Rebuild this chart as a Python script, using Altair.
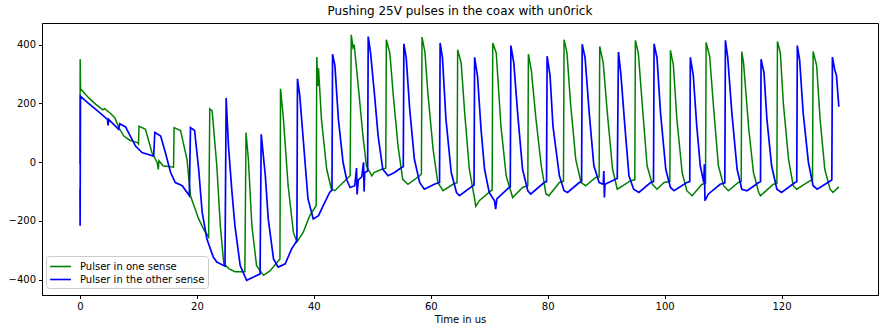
import altair as alt
import pandas as pd

# ---- data ----
series_names = ["Pulser in one sense", "Pulser in the other sense"]
series_colors = ["#008000", "#0000ff"]

green_t = [0.0, 0.03, 0.1, 1.5, 2.7, 3.9, 4.2, 5.3, 6.0, 6.6, 7.5, 8.5, 9.8, 10.0,
           10.1, 11.2, 12.3, 13.2, 13.4, 13.5, 14.2, 16.0,
           16.1, 17.2, 18.3, 18.9, 20.3, 21.2, 22.0,
           22.2, 22.6, 23.4, 24.0, 24.6, 25.5, 26.5, 28.2,
           28.4, 28.8, 29.4, 30.2, 31.4, 32.5, 34.2,
           34.3, 34.8, 35.6, 36.5, 37.1, 38.2, 39.3, 40.4,
           40.5, 40.7, 40.8, 41.3, 42.2, 43.0, 43.6, 45.0, 46.2,
           46.4, 46.7, 46.9, 47.6, 48.4, 49.0, 49.9, 50.3, 51.6, 52.3,
           52.4, 53.0, 53.6, 54.4, 55.2, 56.1, 58.1, 58.4,
           58.5, 59.0, 59.5, 60.4, 61.2, 62.1, 63.8, 64.5,
           64.6, 65.2, 65.8, 66.6, 67.5, 67.7, 68.3, 70.3, 70.5,
           70.6, 71.2, 72.0, 72.9, 74.0, 75.7, 76.6,
           76.7, 77.2, 78.0, 78.9, 79.7, 80.2, 82.0, 82.7,
           82.8, 83.3, 83.9, 84.8, 85.7, 86.5, 88.2, 88.8,
           88.9, 89.5, 90.2, 91.1, 91.9, 94.2, 94.9,
           95.0, 95.5, 96.2, 97.0, 97.9, 98.7, 99.9, 100.9,
           101.0, 101.5, 102.1, 103.0, 103.8, 104.7, 106.4, 107.0,
           107.1, 107.7, 108.4, 109.2, 110.1, 110.9, 112.6, 113.1,
           113.2, 113.5, 114.4, 115.2, 116.1, 116.4, 118.6, 119.2,
           119.3, 119.8, 120.3, 121.2, 122.0, 122.6, 124.9, 125.3,
           125.4, 126.0, 126.6, 127.4, 128.3, 128.8, 129.8]
green_v = [-5, 351, 250, 219, 197, 178, 182, 165, 150, 119, 89, 75, 67, 62,
           123, 112, 33, -1, -25, 5, -12, -17,
           118, 108, 10, -114, -193, -230, -255,
           182, 175, -12, -216, -346, -363, -373, -373,
           101, 10, -216, -352, -385, -370, -329,
           250, 146, -80, -238, -272, -238, -182, -148,
           358, 260, 320, 146, -24, -92, -97, -69, -46,
           434, 390, 400, 259, 89, -12, -46, -35, -24, -20,
           417, 372, 225, 55, -58, -75, -46, -40,
           426, 375, 236, 44, -69, -97, -75, -70,
           383, 338, 168, -24, -125, -150, -131, -97, -95,
           406, 372, 123, -46, -120, -86, -80,
           368, 313, 146, -12, -108, -114, -69, -65,
           417, 372, 202, 10, -69, -80, -52, -50,
           394, 338, 168, -24, -92, -63, -60,
           415, 372, 191, -12, -75, -92, -69, -65,
           381, 330, 146, -35, -97, -114, -75, -72,
           408, 361, 180, -12, -80, -97, -69, -66,
           377, 338, 112, -35, -103, -114, -75, -72,
           411, 372, 202, 10, -80, -92, -63, -60,
           377, 330, 146, -24, -92, -103, -84]

blue_t = [0.0, 0.02, 0.08, 1.0, 2.7, 4.7, 4.8, 4.9, 6.6,
          6.8, 7.8, 8.6, 9.5, 10.6, 12.6,
          12.8, 13.8, 14.6, 15.5, 16.3, 17.5, 18.7,
          18.9, 19.6, 20.3, 20.9, 21.7, 22.3, 22.8, 23.4, 24.8,
          25.0, 25.4, 26.0, 26.5, 27.4, 28.5, 29.7, 30.8,
          31.0, 31.7, 32.2, 33.1, 33.9, 35.1, 36.2, 37.1,
          37.2, 37.6, 38.5, 39.0, 39.9, 40.8, 41.6, 42.7, 43.1,
          43.2, 43.6, 44.2, 45.0, 45.6, 46.2, 47.0, 47.3, 47.4, 47.6, 48.2, 48.5, 48.6, 48.7, 49.2,
          49.3, 49.7, 50.4, 51.0, 51.8, 52.7, 53.8, 55.0, 55.3,
          55.4, 55.8, 56.4, 57.2, 58.1, 58.9, 60.6, 61.5,
          61.6, 62.0, 62.6, 63.5, 64.4, 64.9, 67.2, 67.4,
          67.5, 68.0, 68.6, 69.2, 70.0, 70.9, 71.1, 71.3, 73.4, 73.6,
          73.7, 74.2, 74.9, 75.7, 76.6, 77.1, 79.4, 79.8,
          79.9, 80.4, 80.9, 82.0, 82.8, 83.4, 85.4, 85.8,
          85.9, 86.4, 87.1, 87.9, 88.8, 89.5, 89.6, 89.7, 89.8, 91.6, 91.9,
          92.1, 92.5, 93.2, 93.9, 94.7, 95.6, 97.6, 98.1,
          98.2, 98.7, 99.3, 100.2, 101.0, 101.6, 103.8, 104.3,
          104.4, 104.9, 105.5, 106.1, 106.7, 106.8, 106.9, 107.5, 109.5, 110.3,
          110.4, 110.8, 111.5, 112.4, 113.2, 114.1, 116.1, 116.4,
          116.5, 117.0, 117.5, 118.3, 119.2, 120.0, 122.3, 122.6,
          122.7, 123.1, 123.7, 124.6, 125.4, 126.1, 128.4, 128.6,
          128.7, 129.1, 129.4, 129.8]
blue_v = [-90, -216, 225, 208, 180, 146, 125, 146, 112,
          131, 120, 89, 55, 33, 21,
          101, 89, 33, -35, -69, -80, -114,
          118, 108, -24, -171, -261, -295, -323, -340, -354,
          219, 55, -103, -216, -352, -402, -391, -380,
          95, -46, -193, -329, -357, -346, -295, -267,
          284, 225, -1, -125, -193, -182, -148, -103, -95,
          368, 330, 146, -1, -58, -86, -80, -20, -110, -60, -50, 0, -100, -35, -30,
          428, 372, 225, 89, -24, -46, -35, -18, -15,
          403, 355, 180, 10, -69, -92, -75, -69,
          406, 355, 146, -35, -103, -114, -80, -78,
          357, 292, 112, -24, -103, -131, -160, -125, -86, -84,
          397, 338, 157, -24, -97, -108, -69, -66,
          361, 296, 123, -46, -97, -103, -69, -66,
          402, 355, 168, -12, -69, -75, -30, -120, -75, -58, -55,
          375, 304, 123, -46, -92, -103, -69, -66,
          403, 355, 168, -24, -86, -97, -69, -66,
          357, 296, 123, -12, -69, -7, -131, -108, -75, -70,
          415, 355, 168, -24, -92, -97, -69, -66,
          351, 304, 146, -12, -92, -103, -69, -66,
          397, 347, 168, -1, -80, -92, -63, -60,
          358, 315, 295, 189]

x_ticks = [0, 20, 40, 60, 80, 100, 120]
y_ticks = [-400, -200, 0, 200, 400]

green_df = pd.DataFrame({"t": green_t, "v": green_v, "series": series_names[0]})
blue_df = pd.DataFrame({"t": blue_t, "v": blue_v, "series": series_names[1]})

FONT = "DejaVu Sans"

axis_style = dict(grid=False, labelFont=FONT, labelFontSize=10, labelColor="black",
                  tickColor="black", domainColor="black", tickSize=3.5, labelPadding=3,
                  titleFont=FONT, titleFontSize=10, titleFontWeight="normal",
                  titleColor="black", titlePadding=3)

x_enc = alt.X("t:Q", scale=alt.Scale(domain=[-6.5, 136.5], nice=False, zero=False),
              axis=alt.Axis(values=x_ticks, title="Time in us", **axis_style))
y_enc = alt.Y("v:Q", scale=alt.Scale(domain=[-452, 474], nice=False, zero=False),
              axis=alt.Axis(values=y_ticks, **axis_style), title=None)
color_enc = alt.Color("series:N",
                      scale=alt.Scale(domain=series_names, range=series_colors),
                      legend=alt.Legend(title=None, orient="none", legendX=4, legendY=233,
                                        symbolType="M-1.6,0H1.6", symbolSize=169,
                                        symbolStrokeWidth=1.6, symbolOffset=4,
                                        labelFontSize=10,
                                        labelFont=FONT, labelColor="black",
                                        fillColor="white", strokeColor="#cccccc",
                                        cornerRadius=3, padding=3, rowPadding=0,
                                        labelOffset=12))

green_line = alt.Chart(green_df).mark_line(strokeWidth=1.5, interpolate="linear").encode(
    x=x_enc, y=y_enc, color=color_enc)
blue_line = alt.Chart(blue_df).mark_line(strokeWidth=1.7, interpolate="linear").encode(
    x=x_enc, y=y_enc, color=color_enc)

chart = alt.layer(green_line, blue_line).properties(
    width=836, height=272,
    background="white",
    title=alt.TitleParams("Pushing 25V pulses in the coax with un0rick",
                          font=FONT, fontSize=12, fontWeight="normal", color="black",
                          offset=5),
    autosize=alt.AutoSizeParams(type="none"),
    padding={"left": 42, "top": 23, "right": 11, "bottom": 38},
).configure_view(stroke="black", strokeWidth=1)

chart.save("out.html", embed_options={"renderer": "svg", "actions": False})
